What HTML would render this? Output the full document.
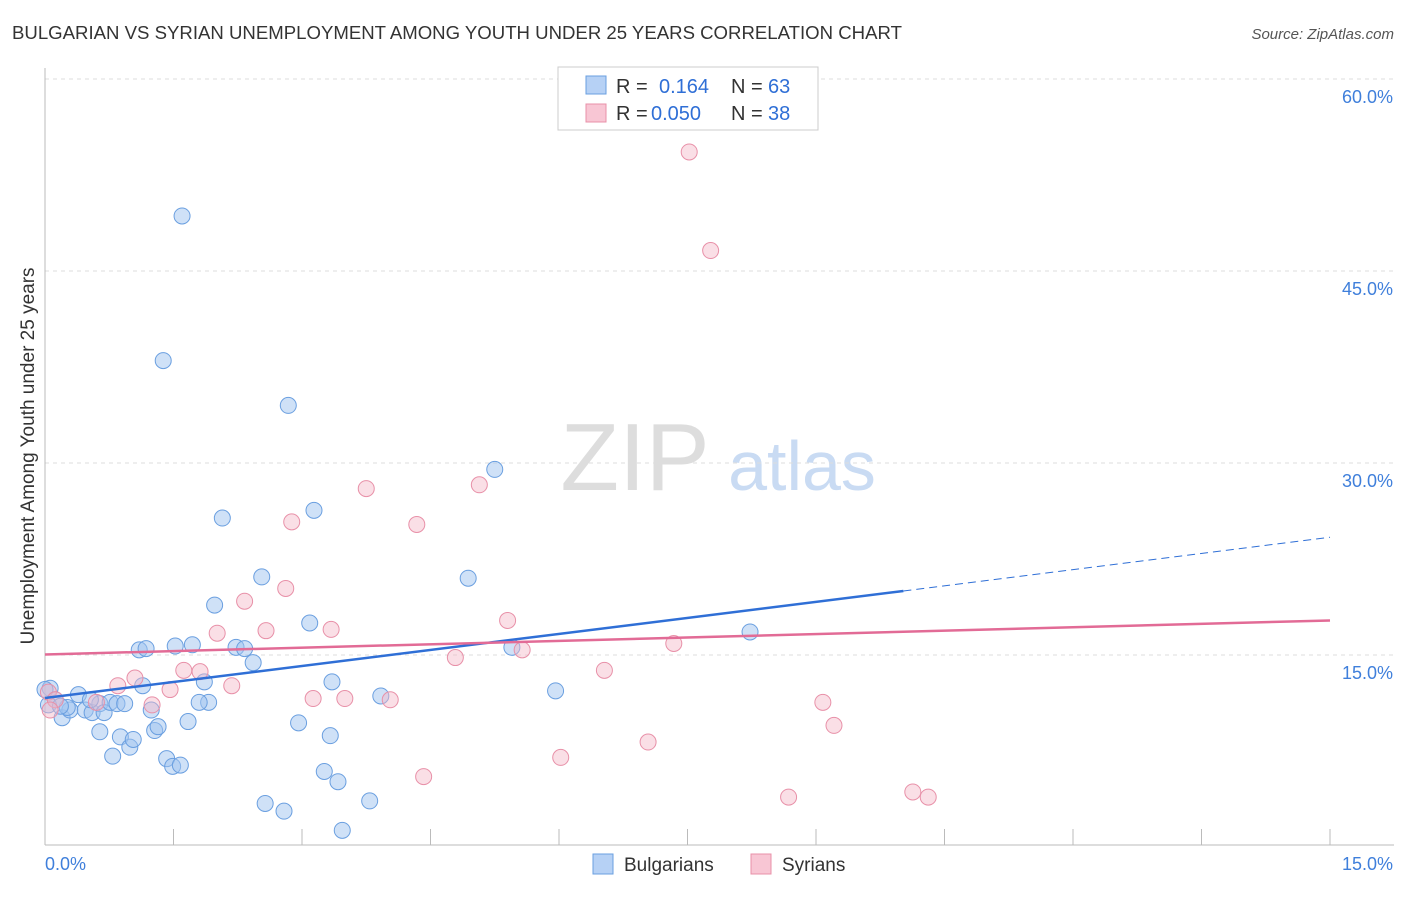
<!DOCTYPE html>
<html><head><meta charset="utf-8"><style>
body{margin:0;background:#fff;font-family:"Liberation Sans",sans-serif;}
svg text{font-family:"Liberation Sans",sans-serif;}
</style></head><body>
<svg id="chart" width="1406" height="892" viewBox="0 0 1406 892" xmlns="http://www.w3.org/2000/svg">
<text x="12" y="39" font-size="18.6" fill="#333">BULGARIAN VS SYRIAN UNEMPLOYMENT AMONG YOUTH UNDER 25 YEARS CORRELATION CHART</text>
<text x="1394" y="39" font-size="15" fill="#555" text-anchor="end" font-style="italic">Source: ZipAtlas.com</text>
<g>
<text x="635" y="490" font-size="96" fill="#ddd" text-anchor="middle" font-family="Liberation Serif, serif">ZIP</text>
<text x="802" y="490" font-size="70" fill="#c9dbf3" text-anchor="middle">atlas</text>
</g>
<g id="grid"></g>
<g id="axes"></g>
<g id="points"></g>
<g id="lines"></g>
<text transform="translate(34,456) rotate(-90)" font-size="19" fill="#333" text-anchor="middle">Unemployment Among Youth under 25 years</text>
<g>
<rect x="558" y="67" width="260" height="63" fill="#fff" stroke="#ccc"/>
<rect x="586" y="76" width="20" height="18" fill="#b6d1f5" stroke="#6a9fe0"/>
<text x="616" y="93" font-size="20" fill="#333">R = </text><text x="659" y="93" font-size="20" fill="#2f6fd6">0.164</text>
<text x="731" y="93" font-size="20" fill="#333">N = </text><text x="768" y="93" font-size="20" fill="#2f6fd6">63</text>
<rect x="586" y="104" width="20" height="18" fill="#f8c6d4" stroke="#e890a8"/>
<text x="616" y="120" font-size="20" fill="#333">R = </text><text x="651" y="120" font-size="20" fill="#2f6fd6">0.050</text>
<text x="731" y="120" font-size="20" fill="#333">N = </text><text x="768" y="120" font-size="20" fill="#2f6fd6">38</text>
</g>
<g>
<rect x="593" y="854" width="20" height="20" fill="#b6d1f5" stroke="#6a9fe0"/>
<text x="624" y="871" font-size="19" fill="#333">Bulgarians</text>
<rect x="751" y="854" width="20" height="20" fill="#f8c6d4" stroke="#e890a8"/>
<text x="782" y="871" font-size="19" fill="#333">Syrians</text>
</g>
</svg>
<script>
const blueX=[1.60,1.38,2.84,5.25,2.07,3.14,2.53,4.94,1.98,3.09,8.23,1.10,1.18,1.52,1.72,2.23,2.33,2.43,5.45,1.14,1.86,1.91,1.80,1.24,3.35,3.92,5.96,0.06,0.12,0.20,0.29,0.39,0.47,0.55,0.64,0.69,0.76,0.84,0.93,0.0,0.64,0.88,0.99,1.03,1.28,1.32,1.67,2.96,3.33,0.79,1.42,1.49,1.58,3.26,3.42,2.57,2.79,3.79,3.47,0.04,0.26,0.53,0.18];
const blueY=[49.3,38.0,34.5,29.5,25.7,26.3,21.1,21.0,18.9,17.5,16.8,15.4,15.5,15.7,15.8,15.6,15.5,14.4,15.6,12.6,12.9,11.3,11.3,10.7,12.9,11.8,12.2,12.4,11.5,10.1,10.7,11.9,10.7,10.5,11.2,10.5,11.3,11.2,11.2,12.3,9.0,8.6,7.8,8.4,9.1,9.4,9.8,9.7,8.7,7.1,6.9,6.3,6.4,5.9,5.1,3.4,2.8,3.6,1.3,11.1,10.9,11.5,11.0];
const pinkX=[7.52,7.77,3.75,5.07,2.88,4.34,2.81,2.33,2.01,2.58,3.34,5.40,5.57,4.79,1.62,1.81,6.53,7.34,1.46,2.18,3.13,3.50,4.03,0.85,1.05,1.25,0.60,0.04,0.12,0.06,9.08,9.21,7.04,6.02,4.42,8.68,10.13,10.31];
const pinkY=[54.3,46.6,28.0,28.3,25.4,25.2,20.2,19.2,16.7,16.9,17.0,17.7,15.4,14.8,13.8,13.7,13.8,15.9,12.3,12.6,11.6,11.6,11.5,12.6,13.2,11.1,11.3,12.1,11.5,10.7,11.3,9.5,8.2,7.0,5.5,3.9,4.3,3.9];
const blueLine=[11.64,20.0,24.2];
const blueLineX=[0,10.02,15];
const pinkLine=[15.04,17.7];
const yTicks=[15,30,45,60];
const yTickLabels=["15.0%","30.0%","45.0%","60.0%"];
const xTickCount=10;
const NS="http://www.w3.org/2000/svg";
const X=v=>45+v/15*1285, Y=v=>847-v*12.8;
function mk(t,a,p){const e=document.createElementNS(NS,t);for(const k in a)e.setAttribute(k,a[k]);p.appendChild(e);return e;}
const grid=document.getElementById('grid'),axes=document.getElementById('axes'),pts=document.getElementById('points'),lines=document.getElementById('lines');
yTicks.forEach((t,i)=>{
 const l=mk('line',{x1:45,x2:1394,y1:Y(t),y2:Y(t),stroke:'#ddd','stroke-dasharray':'4,4'},grid);
 
 
 const tx=mk('text',{x:1393,y:Y(t)+24,'font-size':18,fill:'#3f7fdb','text-anchor':'end'},axes);
 tx.textContent=yTickLabels[i];
 
 
});
const ya=mk('line',{x1:45,x2:45,y1:68,y2:845,stroke:'#bbb'},axes);


const xa=mk('line',{x1:45,x2:1394,y1:845,y2:845,stroke:'#bbb'},axes);


for(let i=0;i<=xTickCount;i++){
 const tk=mk('line',{x1:X(i*1.5),x2:X(i*1.5),y1:829,y2:845,stroke:'#bbb'},axes);
 
 
}
const x0=mk('text',{x:45,y:870,'font-size':18,fill:'#3f7fdb'},axes);x0.textContent='0.0%';


const x1=mk('text',{x:1393,y:870,'font-size':18,fill:'#3f7fdb','text-anchor':'end'},axes);x1.textContent='15.0%';


blueX.forEach((v,i)=>{
 const c=mk('circle',{cx:X(v),cy:Y(blueY[i]),r:8,fill:'rgba(160,196,240,0.5)',stroke:'#6a9fe0','stroke-width':1},pts);
 
 
});
pinkX.forEach((v,i)=>{
 const c=mk('circle',{cx:X(v),cy:Y(pinkY[i]),r:8,fill:'rgba(245,184,200,0.45)',stroke:'#e890a8','stroke-width':1},pts);
 
 
});
const bl=mk('line',{x1:X(blueLineX[0]),y1:Y(blueLine[0]),x2:X(blueLineX[1]),y2:Y(blueLine[1]),stroke:'#2f6fd6','stroke-width':2.5},lines);


const bd=mk('line',{x1:X(blueLineX[1]),y1:Y(blueLine[1]),x2:X(blueLineX[2]),y2:Y(blueLine[2]),stroke:'#2f6fd6','stroke-width':1,'stroke-dasharray':'8,5'},lines);


const pl=mk('line',{x1:X(0),y1:Y(pinkLine[0]),x2:X(15),y2:Y(pinkLine[1]),stroke:'#e26b96','stroke-width':2.5},lines);


</script>
</body></html>
